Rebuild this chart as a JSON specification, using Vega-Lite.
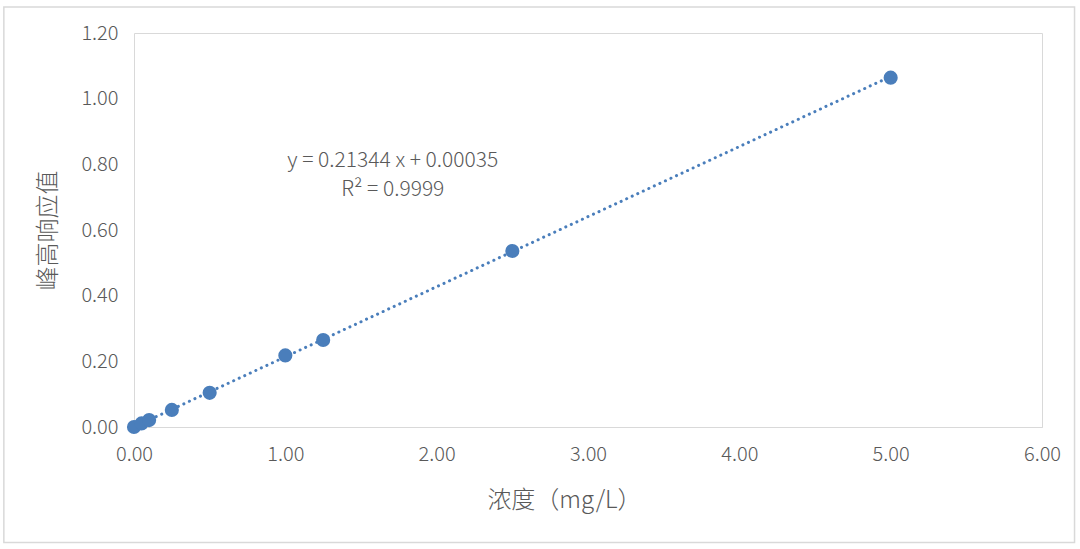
{
  "$schema": "https://vega.github.io/schema/vega-lite/v6.json",
  "autosize": "none",
  "width": 908,
  "height": 394,
  "padding": {"left": 134, "top": 33, "right": 38, "bottom": 122},
  "background": "white",
  "config": {
    "font": "Noto Sans CJK SC",
    "view": {"stroke": "#d9d9d9", "strokeWidth": 1}
  },
  "datasets": {
    "points": [
      {"conc": 0, "resp": 0},
      {"conc": 0.05, "resp": 0.011},
      {"conc": 0.1, "resp": 0.021},
      {"conc": 0.25, "resp": 0.052},
      {"conc": 0.5, "resp": 0.104},
      {"conc": 1, "resp": 0.218},
      {"conc": 1.25, "resp": 0.265},
      {"conc": 2.5, "resp": 0.536},
      {"conc": 5, "resp": 1.064}
    ],
    "trend": [
      {"conc": 0, "resp": 0.00035},
      {"conc": 5, "resp": 1.06755}
    ],
    "labels": [
      {"conc": 1.71, "resp": 0.81, "text": "y = 0.21344 x + 0.00035"},
      {"conc": 1.71, "resp": 0.723, "text": "R² = 0.9999"}
    ],
    "frame": [
      {"x0": -0.86, "x1": 6.215, "y0": -0.352, "y1": 1.279}
    ]
  },
  "encoding": {
    "x": {
      "field": "conc",
      "type": "quantitative",
      "scale": {"domain": [0, 6], "nice": false, "zero": false},
      "title": "浓度（mg/L）",
      "axis": {
        "values": [0, 1, 2, 3, 4, 5, 6],
        "format": ".2f",
        "grid": false,
        "ticks": false,
        "labelFlush": false,
        "domainColor": "#d9d9d9",
        "labelFontSize": 20,
        "labelColor": "#595959",
        "labelPadding": 17,
        "labelFontWeight": 300,
        "titleFontSize": 24,
        "titleColor": "#595959",
        "titleFontWeight": 300,
        "titlePadding": 24,
        "titleX": 430
      }
    },
    "y": {
      "field": "resp",
      "type": "quantitative",
      "scale": {"domain": [0, 1.2], "nice": false, "zero": false},
      "title": "峰高响应值",
      "axis": {
        "values": [0, 0.2, 0.4, 0.6, 0.8, 1.0, 1.2],
        "format": ".2f",
        "grid": false,
        "ticks": false,
        "domain": false,
        "labelFlush": false,
        "labelFontSize": 20,
        "labelColor": "#595959",
        "labelPadding": 16,
        "labelFontWeight": 300,
        "titleFontSize": 24,
        "titleColor": "#595959",
        "titleFontWeight": 300,
        "titlePadding": 20
      }
    }
  },
  "layer": [
    {
      "data": {"name": "frame"},
      "mark": {"type": "rect", "fill": null, "stroke": "#d9d9d9", "strokeWidth": 1.5, "clip": false},
      "encoding": {
        "x": {"field": "x0", "type": "quantitative"},
        "x2": {"field": "x1"},
        "y": {"field": "y0", "type": "quantitative"},
        "y2": {"field": "y1"}
      }
    },
    {
      "data": {"name": "trend"},
      "mark": {"type": "line", "color": "#4a7ebb", "strokeWidth": 3, "strokeDash": [0.1, 6], "strokeCap": "round"}
    },
    {
      "data": {"name": "points"},
      "mark": {"type": "circle", "color": "#4a7ebb", "opacity": 1, "size": 200}
    },
    {
      "data": {"name": "labels"},
      "mark": {"type": "text", "fontSize": 21, "color": "#595959", "fontWeight": 300, "align": "center", "baseline": "middle"},
      "encoding": {
        "text": {"field": "text"}
      }
    }
  ]
}
